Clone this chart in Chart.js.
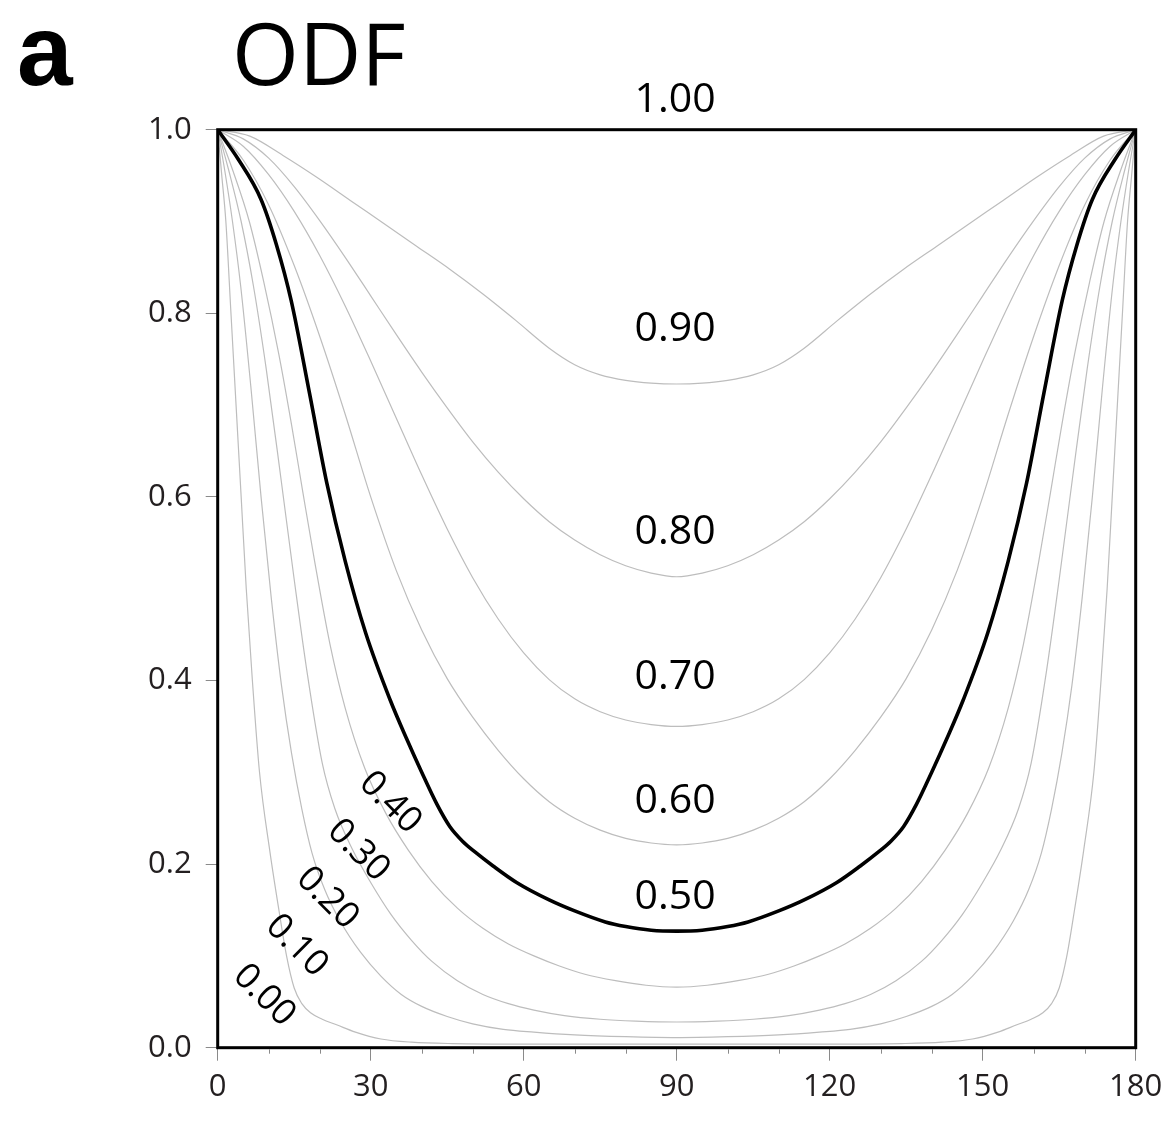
<!DOCTYPE html>
<html>
<head>
<meta charset="utf-8">
<script src="https://cdn.jsdelivr.net/npm/chart.js@4.4.1/dist/chart.umd.min.js"></script>
<style>
  html,body{margin:0;padding:0;background:#fff;}
  #wrap{position:relative;width:1171px;height:1124px;}
</style>
</head>
<body>
<div id="wrap"><canvas id="c" width="1171" height="1124"></canvas></div>
<script>
// ---- data: ODF contour levels, as [angle, value] points ----
const levelNames = ['0.00','0.10','0.20','0.30','0.40','0.50','0.60','0.70','0.80','0.90','1.00'];

const c000 = [[0,1],[0,0],[180,0],[180,1]];
const c010 = [[0,1],[0.8,0.95],[1.6,0.9],[2.6,0.8],[3.6,0.7],[4.6,0.6],[5.6,0.5],[6.8,0.4],[8.2,0.3],[10.2,0.215],[12,0.15],[13.5,0.1],[15,0.065],[16.5,0.048],[18.2,0.038],[20.5,0.031],[23.3,0.025],[27,0.017],[32,0.0095],[38,0.006],[46,0.0045],[60,0.004],[75,0.004],[90,0.004],
  [105,0.004],[120,0.004],[134,0.0045],[142,0.006],[148,0.0095],[153,0.017],[156.7,0.025],[159.5,0.031],[161.8,0.038],[163.5,0.048],[165,0.065],[166.5,0.1],[168,0.15],[169.8,0.215],[171.8,0.3],[173.2,0.4],[174.4,0.5],[175.4,0.6],[176.4,0.7],[177.4,0.8],[178.4,0.9],[179.2,0.95],[180,1]];
const c020 = [[0,1],[1.4,0.955],[2.9,0.9],[4.5,0.83],[6.5,0.72],[8.5,0.6],[10.5,0.49],[12.5,0.395],[14.5,0.32],[16.5,0.26],[18.5,0.212],[21,0.172],[24,0.138],[28,0.104],[32,0.078],[36,0.058],[40,0.045],[45,0.034],[50,0.026],[56,0.02],[62,0.017],[70,0.014],[80,0.012],[90,0.011],
  [100,0.012],[110,0.014],[118,0.017],[124,0.02],[130,0.026],[135,0.034],[140,0.045],[144,0.058],[148,0.078],[152,0.104],[156,0.138],[159,0.172],[161.5,0.212],[163.5,0.26],[165.5,0.32],[167.5,0.395],[169.5,0.49],[171.5,0.6],[173.5,0.72],[175.5,0.83],[177.1,0.9],[178.6,0.955],[180,1]];
const c030 = [[0,1],[2.2,0.955],[4.6,0.9],[7,0.83],[9.5,0.74],[12.4,0.62],[15,0.51],[17.5,0.41],[20.5,0.31],[23,0.26],[26.5,0.215],[30,0.18],[34,0.145],[38,0.117],[42,0.094],[47,0.073],[52,0.058],[57,0.048],[62,0.041],[68,0.035],[75,0.031],[82,0.029],[90,0.028],
  [98,0.029],[105,0.031],[112,0.035],[118,0.041],[123,0.048],[128,0.058],[133,0.073],[138,0.094],[142,0.117],[146,0.145],[150,0.18],[153.5,0.215],[157,0.26],[159.5,0.31],[162.5,0.41],[165,0.51],[167.6,0.62],[170.5,0.74],[173,0.83],[175.4,0.9],[177.8,0.955],[180,1]];
const c040 = [[0,1],[3,0.955],[6.2,0.9],[9,0.835],[12,0.755],[14.5,0.678],[16.7,0.605],[19,0.53],[22,0.44],[25,0.37],[28.8,0.305],[33,0.255],[37.4,0.215],[42,0.181],[47,0.152],[52,0.13],[57,0.113],[62,0.1],[67,0.089],[72,0.08],[78,0.073],[84,0.068],[90,0.066],
  [96,0.068],[102,0.073],[108,0.08],[113,0.089],[118,0.1],[123,0.113],[128,0.13],[133,0.152],[138,0.181],[142.6,0.215],[147,0.255],[151.2,0.305],[155,0.37],[158,0.44],[161,0.53],[163.3,0.605],[165.5,0.678],[168,0.755],[171,0.835],[173.8,0.9],[177,0.955],[180,1]];
const c050 = [[0,1],[4,0.968],[8.5,0.924],[11.5,0.875],[14.4,0.814],[18,0.713],[21.4,0.615],[25,0.53],[29,0.452],[33.8,0.379],[37,0.337],[40,0.3],[43,0.265],[45.5,0.241],[48,0.225],[50.5,0.213],[54,0.198],[58.6,0.18],[65,0.161],[70,0.149],[76,0.137],[80,0.132],[85,0.128],[90,0.127],
  [95,0.128],[100,0.132],[104,0.137],[110,0.149],[115,0.161],[121.4,0.18],[126,0.198],[129.5,0.213],[132,0.225],[134.5,0.241],[137,0.265],[140,0.3],[143,0.337],[146.2,0.379],[151,0.452],[155,0.53],[158.6,0.615],[162,0.713],[165.6,0.814],[168.5,0.875],[171.5,0.924],[176,0.968],[180,1]];
const c060 = [[0,1],[5,0.967],[10,0.918],[15,0.852],[20,0.775],[25,0.69],[30,0.6],[35,0.52],[40,0.455],[45,0.402],[50,0.36],[55,0.324],[60,0.293],[65,0.268],[70,0.25],[75,0.237],[80,0.228],[85,0.223],[90,0.221],
  [95,0.223],[100,0.228],[105,0.237],[110,0.25],[115,0.268],[120,0.293],[125,0.324],[130,0.36],[135,0.402],[140,0.455],[145,0.52],[150,0.6],[155,0.69],[160,0.775],[165,0.852],[170,0.918],[175,0.967],[180,1]];
const c070 = [[0,1],[5,0.982],[10,0.951],[15,0.911],[20,0.863],[25,0.808],[30,0.748],[35,0.686],[40,0.624],[45,0.565],[50,0.512],[55,0.467],[60,0.43],[65,0.401],[70,0.38],[75,0.366],[80,0.357],[85,0.352],[90,0.35],
  [95,0.352],[100,0.357],[105,0.366],[110,0.38],[115,0.401],[120,0.43],[125,0.467],[130,0.512],[135,0.565],[140,0.624],[145,0.686],[150,0.748],[155,0.808],[160,0.863],[165,0.911],[170,0.951],[175,0.982],[180,1]];
const c080 = [[0,1],[5,0.99],[10,0.969],[15,0.938],[20,0.901],[25,0.861],[30,0.819],[35,0.777],[40,0.736],[45,0.697],[50,0.66],[55,0.627],[60,0.598],[65,0.573],[70,0.553],[75,0.537],[80,0.525],[85,0.517],[90,0.513],
  [95,0.517],[100,0.525],[105,0.537],[110,0.553],[115,0.573],[120,0.598],[125,0.627],[130,0.66],[135,0.697],[140,0.736],[145,0.777],[150,0.819],[155,0.861],[160,0.901],[165,0.938],[170,0.969],[175,0.99],[180,1]];
const c090 = [[0,1],[6.3,0.993],[12.8,0.972],[19.5,0.948],[26,0.923],[32.5,0.898],[39,0.873],[45.5,0.848],[52,0.821],[58.5,0.792],[65,0.762],[70,0.744],[75,0.733],[80,0.727],[85,0.724],[90,0.723],
  [95,0.724],[100,0.727],[105,0.733],[110,0.744],[115,0.762],[121.5,0.792],[128,0.821],[134.5,0.848],[141,0.873],[147.5,0.898],[154,0.923],[160.5,0.948],[167.2,0.972],[173.7,0.993],[180,1]];
const c100 = [[0,1],[180,1]];

const curves = [c000,c010,c020,c030,c040,c050,c060,c070,c080,c090,c100];

const xMin = 0, xMax = 180, xStep = 10, xLabelEvery = 30;
const yMin = 0, yMax = 1, yStep = 0.2;

// anchors (data coordinates) for the contour annotations
const labelAnchors = [
  {t:'1.00', x:89.7, y:1.032, rot:0, size:41},
  {t:'0.90', x:89.7, y:0.783, rot:0, size:41},
  {t:'0.80', x:89.7, y:0.561, rot:0, size:41},
  {t:'0.70', x:89.7, y:0.403, rot:0, size:41},
  {t:'0.60', x:89.7, y:0.268, rot:0, size:41},
  {t:'0.50', x:89.7, y:0.164, rot:0, size:41},
  {t:'0.40', x:33.8, y:0.267, rot:45, size:36},
  {t:'0.30', x:27.6, y:0.215, rot:45, size:36},
  {t:'0.20', x:21.5, y:0.163, rot:45, size:36},
  {t:'0.10', x:15.5, y:0.111, rot:45, size:36},
  {t:'0.00', x:9.1,  y:0.057, rot:45, size:36}
];

const LABEL_FONT = '"Open Sans", "DejaVu Sans", sans-serif';

const datasets = curves.map((pts, i) => ({
  label: levelNames[i],
  data: pts.map(p => ({x: p[0], y: p[1]})),
  showLine: true,
  pointRadius: 0,
  pointHoverRadius: 0,
  borderColor: i === 5 ? '#000000' : '#bdbdbd',
  borderWidth: i === 5 ? 3.6 : 1.2,
  cubicInterpolationMode: (i === 0 || i === 10) ? 'default' : 'monotone',
  tension: 0,
  fill: false,
  order: i === 5 ? 0 : 1
}));

const decorPlugin = {
  id: 'decor',
  afterDatasetsDraw(chart) {
    const {ctx, chartArea: a, scales} = chart;
    const xs = scales.x, ys = scales.y;
    ctx.save();
    // frame
    ctx.strokeStyle = '#000';
    ctx.lineWidth = 3;
    ctx.strokeRect(a.left, a.top, a.right - a.left, a.bottom - a.top);
    // minor x ticks
    ctx.strokeStyle = '#8a8a8a';
    ctx.lineWidth = 1;
    for (let v = xMin; v <= xMax; v += xStep) {
      if (v % xLabelEvery === 0) continue;
      const px = Math.round(xs.getPixelForValue(v)) + 0.5;
      ctx.beginPath();
      ctx.moveTo(px, a.bottom + 1.5);
      ctx.lineTo(px, a.bottom + 6);
      ctx.stroke();
    }
    // contour labels
    ctx.fillStyle = '#000';
    ctx.textAlign = 'center';
    ctx.textBaseline = 'middle';
    labelAnchors.forEach(l => {
      const px = xs.getPixelForValue(l.x);
      const py = ys.getPixelForValue(l.y);
      ctx.save();
      ctx.translate(px, py);
      ctx.rotate(l.rot * Math.PI / 180);
      ctx.font = l.size + 'px ' + LABEL_FONT;
      ctx.fillText(l.t, 0, 0);
      ctx.restore();
    });
    // panel letter and title
    ctx.textAlign = 'left';
    ctx.textBaseline = 'alphabetic';
    ctx.font = 'bold 100px "Liberation Sans", Arial, sans-serif';
    ctx.fillText('a', 17, 85);
    ctx.font = '86px ' + LABEL_FONT;
    ctx.fillText('ODF', 232, 85);
    ctx.restore();
  }
};

new Chart(document.getElementById('c'), {
  type: 'scatter',
  data: { datasets },
  options: {
    responsive: false,
    animation: false,
    devicePixelRatio: 1,
    events: [],
    layout: { padding: { left: 0, top: 129.7, right: 35.3, bottom: 0 } },
    plugins: { legend: { display: false }, tooltip: { enabled: false }, title: { display: false } },
    scales: {
      x: {
        type: 'linear', min: xMin, max: xMax,
        afterFit(s) { s.height = 76.3; },
        border: { display: false },
        grid: {
          drawOnChartArea: false, drawTicks: true, tickLength: 13,
          tickColor: c => (c.tick && c.tick.value % xLabelEvery === 0) ? '#8a8a8a' : 'rgba(0,0,0,0)',
          tickWidth: 1
        },
        ticks: {
          stepSize: xStep, autoSkip: false, maxRotation: 0, padding: 8,
          color: '#231f20',
          font: { family: LABEL_FONT, size: 31 },
          callback: v => (v % xLabelEvery === 0 ? String(v) : '')
        }
      },
      y: {
        type: 'linear', min: yMin, max: yMax,
        afterFit(s) { s.width = 217.7; },
        border: { display: false },
        grid: { drawOnChartArea: false, drawTicks: true, tickLength: 12, tickColor: '#8a8a8a', tickWidth: 1 },
        ticks: {
          stepSize: yStep, padding: 14,
          color: '#231f20',
          font: { family: LABEL_FONT, size: 31 },
          callback: v => Number(v).toFixed(1)
        }
      }
    }
  },
  plugins: [decorPlugin]
});
</script>
</body>
</html>
